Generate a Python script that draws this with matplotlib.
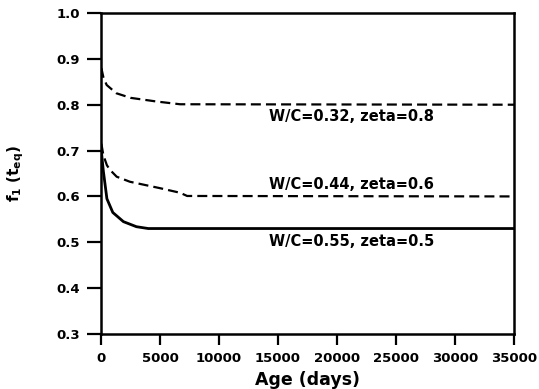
import matplotlib
matplotlib.use("Agg")
import matplotlib.pyplot as plt

plt.rcParams["font.family"] = ["DejaVu Sans"]
plt.rcParams["font.weight"] = "bold"
plt.rcParams["mathtext.fontset"] = "dejavusans"

# age (days) and f1(t_eq) values
age_032 = [30, 200, 480, 1300, 2500, 4700, 6700, 35000]
f1_032 = [0.88, 0.86, 0.843, 0.825, 0.815, 0.807, 0.801, 0.80]

age_044 = [30, 200, 500, 760, 1330, 2450, 5000, 6700, 7300, 35000]
f1_044 = [0.715, 0.69, 0.668, 0.658, 0.643, 0.632, 0.618, 0.608, 0.601, 0.60]

age_055 = [30, 100, 200, 500, 1000, 1900, 3000, 4000, 35000]
f1_055 = [0.70, 0.68, 0.655, 0.595, 0.565, 0.545, 0.534, 0.53, 0.53]

labels = ["W/C=0.32, zeta=0.8", "W/C=0.44, zeta=0.6", "W/C=0.55, zeta=0.5"]
label_y = [0.775, 0.625, 0.501]
label_x = 14200

xticks = [0, 5000, 10000, 15000, 20000, 25000, 30000, 35000]
yticks = [0.3, 0.4, 0.5, 0.6, 0.7, 0.8, 0.9, 1.0]


def main():
    fig = plt.figure(figsize=(5.39, 3.89), dpi=100)
    ax = fig.add_axes([101 / 539, 55 / 389, 413 / 539, 321 / 389])

    ax.plot(age_032, f1_032, color="black", lw=1.6, ls=(0, (4.5, 2.3)))
    ax.plot(age_044, f1_044, color="black", lw=1.6, ls=(0, (4.5, 2.3)))
    ax.plot(age_055, f1_055, color="black", lw=2.0)

    for text, y in zip(labels, label_y):
        ax.text(label_x, y, text, fontsize=10.5, fontweight="bold", va="center", ha="left")

    ax.set_xlim(0, 35000)
    ax.set_ylim(0.3, 1.0)
    ax.set_xticks(xticks)
    ax.set_yticks(yticks)
    ax.set_yticklabels([f"{v:.1f}" for v in yticks])
    ax.tick_params(axis="x", direction="out", length=8, width=1.6, labelsize=9.5, pad=5)
    ax.tick_params(axis="y", direction="out", length=10, width=1.6, labelsize=9.5, pad=5)

    for spine in ax.spines.values():
        spine.set_linewidth(1.8)

    ax.set_xlabel("Age (days)", fontsize=12.5, fontweight="bold", labelpad=4)
    ax.set_ylabel(r"$\mathbf{f_1}$ $\mathbf{(t_{eq})}$", fontsize=11, labelpad=22)

    fig.savefig("out.png", dpi=100)
    plt.close(fig)


if __name__ == "__main__":
    main()
